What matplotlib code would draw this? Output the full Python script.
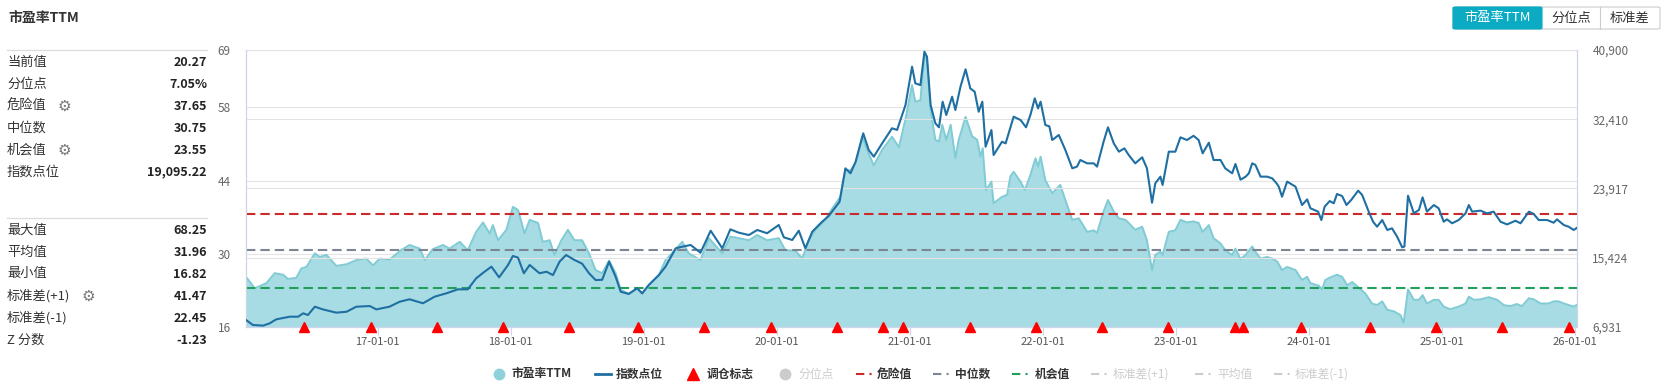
import matplotlib
matplotlib.use('Agg')
import matplotlib.pyplot as plt
import matplotlib.dates as mdates
from matplotlib.lines import Line2D
from matplotlib.patches import FancyBboxPatch
from matplotlib.ticker import FixedLocator, FuncFormatter
import pandas as pd

plt.rcParams['font.family'] = ['Noto Sans CJK SC', 'DejaVu Sans']

# ---- data ----
pe_dates = [
    "2016-01-05", "2016-01-29", "2016-03-01", "2016-03-24", "2016-04-16", "2016-04-29",
    "2016-05-22", "2016-06-05", "2016-06-19", "2016-07-12", "2016-07-25", "2016-08-13",
    "2016-09-09", "2016-10-07", "2016-11-03", "2016-11-30", "2016-12-19", "2017-01-06",
    "2017-02-02", "2017-03-06", "2017-03-29", "2017-04-26", "2017-05-10", "2017-06-01",
    "2017-06-29", "2017-07-17", "2017-08-14", "2017-09-05", "2017-09-28", "2017-10-17",
    "2017-11-04", "2017-11-13", "2017-11-27", "2017-12-20", "2018-01-07", "2018-01-21",
    "2018-02-08", "2018-02-22", "2018-03-17", "2018-03-30", "2018-04-18", "2018-05-01",
    "2018-05-20", "2018-06-07", "2018-06-25", "2018-07-16", "2018-08-04", "2018-08-22",
    "2018-09-09", "2018-09-28", "2018-10-16", "2018-10-30", "2018-11-21", "2018-12-14",
    "2018-12-28", "2019-01-15", "2019-02-12", "2019-03-02", "2019-03-20", "2019-04-17",
    "2019-05-05", "2019-06-06", "2019-06-29", "2019-08-05", "2019-08-27", "2019-09-19",
    "2019-10-17", "2019-11-09", "2019-12-06", "2020-01-07", "2020-01-25", "2020-02-22",
    "2020-03-11", "2020-03-30", "2020-04-17", "2020-05-14", "2020-06-02", "2020-06-24",
    "2020-07-08", "2020-07-22", "2020-08-05", "2020-08-23", "2020-09-10", "2020-09-24",
    "2020-10-17", "2020-11-13", "2020-12-02", "2020-12-20", "2021-01-07", "2021-01-16",
    "2021-01-30", "2021-02-10", "2021-02-17", "2021-02-27", "2021-03-12", "2021-03-22",
    "2021-03-31", "2021-04-11", "2021-04-23", "2021-05-06", "2021-05-15", "2021-06-03",
    "2021-06-21", "2021-07-05", "2021-07-14", "2021-07-20", "2021-07-29", "2021-08-13",
    "2021-08-19", "2021-09-11", "2021-09-25", "2021-10-04", "2021-10-13", "2021-11-01",
    "2021-11-13", "2021-11-28", "2021-12-12", "2021-12-19", "2021-12-26", "2022-01-08",
    "2022-01-27", "2022-02-18", "2022-03-04", "2022-03-23", "2022-04-10", "2022-05-03",
    "2022-05-21", "2022-05-30", "2022-06-17", "2022-06-29", "2022-07-15", "2022-07-29",
    "2022-08-16", "2022-08-25", "2022-09-12", "2022-10-01", "2022-10-14", "2022-10-28",
    "2022-11-06", "2022-11-20", "2022-11-26", "2022-12-13", "2022-12-31", "2023-01-14",
    "2023-02-01", "2023-02-19", "2023-03-05", "2023-03-16", "2023-04-02", "2023-04-15",
    "2023-05-04", "2023-05-17", "2023-06-05", "2023-06-14", "2023-06-28", "2023-07-12",
    "2023-07-30", "2023-08-08", "2023-08-22", "2023-09-09", "2023-09-23", "2023-10-07",
    "2023-10-20", "2023-11-03", "2023-11-26", "2023-12-14", "2023-12-28", "2024-01-06",
    "2024-01-29", "2024-02-07", "2024-02-16", "2024-03-01", "2024-03-19", "2024-04-02",
    "2024-04-16", "2024-04-30", "2024-05-18", "2024-06-05", "2024-06-23", "2024-07-07",
    "2024-07-21", "2024-08-04", "2024-08-22", "2024-09-09", "2024-09-18", "2024-09-30",
    "2024-10-16", "2024-10-30", "2024-11-09", "2024-11-21", "2024-12-10", "2024-12-23",
    "2025-01-06", "2025-01-24", "2025-02-16", "2025-03-07", "2025-03-16", "2025-03-30",
    "2025-04-17", "2025-05-10", "2025-06-02", "2025-06-20", "2025-07-08", "2025-07-26",
    "2025-08-09", "2025-08-28", "2025-09-10", "2025-09-29", "2025-10-21", "2025-11-04",
    "2025-11-18", "2025-12-02", "2025-12-15", "2025-12-29", "2026-01-07",
]
pe_values = [
    25.6, 23.4, 24.4, 26.3, 26.0, 25.2,
    25.4, 27.2, 27.5, 30.1, 29.4, 29.8,
    27.7, 28.0, 28.8, 29.1, 27.8, 29.1,
    28.9, 30.7, 31.7, 31.0, 28.8, 30.9,
    31.7, 31.0, 32.3, 30.7, 34.2, 36.0,
    33.9, 35.5, 32.6, 34.6, 39.0, 38.4,
    33.9, 36.5, 35.9, 32.3, 32.6, 29.8,
    32.6, 34.6, 32.6, 32.6, 30.1, 26.9,
    26.3, 28.7, 26.3, 23.1, 22.4, 23.4,
    22.4, 24.0, 26.0, 28.8, 30.1, 32.3,
    30.1, 28.8, 33.0, 30.1, 33.3, 33.0,
    32.6, 33.6, 32.6, 33.0, 30.7, 30.6,
    29.1, 32.6, 34.6, 36.5, 38.7, 40.9,
    46.0, 46.0, 47.3, 52.4, 49.2, 46.9,
    49.9, 52.4, 50.4, 55.8, 62.3, 59.1,
    59.4, 68.25, 67.0, 57.5, 51.8, 51.5,
    54.7, 51.8, 54.7, 48.3, 51.8, 56.2,
    52.5, 51.8, 48.6, 50.2, 42.2, 43.8,
    39.7, 40.9, 41.3, 44.8, 45.7, 43.8,
    42.2, 45.1, 48.3, 46.7, 48.6, 44.1,
    41.6, 43.2, 40.3, 36.5, 36.8, 34.2,
    34.5, 34.0, 38.1, 40.3, 38.1, 36.8,
    36.5, 35.9, 34.6, 35.2, 32.6, 26.9,
    29.8, 30.4, 29.8, 34.2, 34.5, 36.5,
    36.0, 36.2, 35.9, 34.2, 35.5, 33.0,
    32.0, 30.7, 29.8, 31.0, 29.0, 29.8,
    31.4, 30.4, 29.1, 29.4, 29.1, 28.5,
    26.9, 27.5, 26.9, 25.0, 25.6, 24.4,
    23.9, 23.2, 25.0, 25.5, 26.0, 25.6,
    24.0, 24.6, 23.5, 22.4, 20.5, 20.2,
    20.9, 19.3, 19.0, 18.3, 16.82, 23.2,
    21.2, 21.2, 22.1, 20.5, 21.2, 21.2,
    19.9, 19.4, 19.9, 20.5, 21.8, 21.2,
    21.3, 21.7, 21.2, 20.2, 20.0, 20.4,
    20.0, 21.5, 21.3, 20.5, 20.5, 20.9,
    20.9, 20.5, 20.2, 19.9, 20.27,
]

idx_dates = [
    "2016-01-05", "2016-01-24", "2016-02-21", "2016-03-10", "2016-03-28", "2016-05-04",
    "2016-05-27", "2016-06-10", "2016-06-23", "2016-07-12", "2016-08-03", "2016-09-09",
    "2016-10-07", "2016-11-03", "2016-12-10", "2016-12-28", "2017-02-02", "2017-03-02",
    "2017-03-29", "2017-05-05", "2017-06-06", "2017-07-08", "2017-08-09", "2017-09-05",
    "2017-09-28", "2017-10-21", "2017-11-09", "2017-11-30", "2017-12-24", "2018-01-07",
    "2018-01-21", "2018-02-06", "2018-02-22", "2018-03-21", "2018-04-09", "2018-04-27",
    "2018-05-15", "2018-06-02", "2018-06-25", "2018-07-16", "2018-08-04", "2018-08-22",
    "2018-09-09", "2018-09-28", "2018-10-16", "2018-10-30", "2018-11-21", "2018-12-14",
    "2018-12-28", "2019-01-15", "2019-02-12", "2019-03-02", "2019-03-30", "2019-04-17",
    "2019-05-10", "2019-06-06", "2019-07-04", "2019-08-05", "2019-08-27", "2019-09-19",
    "2019-10-17", "2019-11-09", "2019-12-06", "2020-01-07", "2020-01-21", "2020-02-13",
    "2020-03-02", "2020-03-20", "2020-04-08", "2020-05-05", "2020-05-23", "2020-06-22",
    "2020-07-08", "2020-07-22", "2020-08-05", "2020-08-26", "2020-09-10", "2020-09-24",
    "2020-10-17", "2020-11-13", "2020-11-27", "2020-12-20", "2021-01-07", "2021-01-16",
    "2021-01-30", "2021-02-10", "2021-02-17", "2021-02-27", "2021-03-12", "2021-03-22",
    "2021-04-01", "2021-04-11", "2021-04-27", "2021-05-06", "2021-05-20", "2021-06-03",
    "2021-06-16", "2021-06-28", "2021-07-09", "2021-07-19", "2021-07-28", "2021-08-13",
    "2021-08-19", "2021-09-11", "2021-09-21", "2021-10-13", "2021-11-01", "2021-11-16",
    "2021-11-28", "2021-12-10", "2021-12-19", "2021-12-26", "2022-01-08", "2022-01-19",
    "2022-01-27", "2022-02-14", "2022-03-04", "2022-03-23", "2022-04-05", "2022-04-14",
    "2022-05-03", "2022-05-21", "2022-05-30", "2022-06-17", "2022-06-29", "2022-07-15",
    "2022-07-29", "2022-08-13", "2022-08-25", "2022-09-12", "2022-10-01", "2022-10-14",
    "2022-10-28", "2022-11-06", "2022-11-20", "2022-11-26", "2022-12-13", "2022-12-31",
    "2023-01-14", "2023-02-01", "2023-02-19", "2023-03-05", "2023-03-16", "2023-04-02",
    "2023-04-15", "2023-05-04", "2023-05-17", "2023-06-05", "2023-06-14", "2023-06-28",
    "2023-07-12", "2023-07-21", "2023-07-30", "2023-08-08", "2023-08-22", "2023-09-09",
    "2023-09-23", "2023-10-05", "2023-10-11", "2023-10-20", "2023-11-03", "2023-11-26",
    "2023-12-14", "2023-12-28", "2024-01-06", "2024-01-27", "2024-02-05", "2024-02-14",
    "2024-02-28", "2024-03-10", "2024-03-19", "2024-04-02", "2024-04-14", "2024-04-27",
    "2024-05-16", "2024-05-27", "2024-06-14", "2024-06-26", "2024-07-07", "2024-07-21",
    "2024-08-04", "2024-08-17", "2024-08-31", "2024-09-14", "2024-09-20", "2024-09-30",
    "2024-10-16", "2024-10-30", "2024-11-09", "2024-11-21", "2024-12-10", "2024-12-23",
    "2025-01-06", "2025-01-15", "2025-01-29", "2025-02-16", "2025-03-07", "2025-03-16",
    "2025-03-25", "2025-04-17", "2025-05-05", "2025-05-23", "2025-06-11", "2025-06-29",
    "2025-07-22", "2025-08-05", "2025-08-28", "2025-09-10", "2025-09-24", "2025-10-17",
    "2025-11-04", "2025-11-13", "2025-12-02", "2025-12-15", "2025-12-29", "2026-01-07",
]
idx_values = [
    7790, 7176, 7100, 7380, 7870, 8194,
    8194, 8610, 8400, 9420, 9090, 8690,
    8800, 9420, 9500, 9090, 9420, 10030,
    10330, 9840, 10650, 11060, 11550, 11550,
    12900, 13710, 14330, 13020, 14500, 15640,
    15440, 13520, 14540, 13520, 13710, 13300,
    14940, 15760, 15150, 14700, 13520, 12690,
    12720, 14940, 13100, 11260, 10980, 11680,
    11060, 12080, 13310, 14330, 16580, 16780,
    16990, 16040, 18740, 16580, 18910, 18500,
    18210, 18830, 18430, 19440, 17930, 17600,
    18740, 16580, 18620, 19840, 20540, 22290,
    26390, 25780, 27200, 30680, 28640, 27820,
    29460, 31300, 31100, 34150, 38850, 36810,
    36600, 40690, 40080, 34150, 31910, 31420,
    34560, 32930, 35170, 33540, 36400, 38530,
    36190, 35780, 33330, 34560, 29040, 31080,
    28020, 29650, 29450, 32720, 32310, 31420,
    32930, 34970, 33740, 34560, 31700, 31540,
    29860, 30480, 28640, 26390, 26600, 27410,
    27000, 27000, 26600, 29650, 31420, 29450,
    28430, 28840, 28020, 27000, 27740, 26390,
    22170, 24550, 25370, 24350, 28430, 28430,
    30190, 29860, 30380, 29860, 28230, 29530,
    27410, 27410, 26390, 25780, 26920, 25000,
    25360, 25780, 27000, 26800, 25370, 25370,
    25160, 24550, 24140, 22910, 24760, 24140,
    21890, 22580, 21490, 21080, 20050, 21690,
    22380, 22100, 23240, 22990, 21890, 22510,
    23650, 23130, 21080, 19840, 19230, 20050,
    18830, 19030, 18010, 16700, 16800, 23030,
    20870, 21290, 22830, 21080, 21890, 21490,
    19840, 20130, 19650, 20050, 20870, 21890,
    21080, 21200, 20870, 21080, 19840, 19510,
    19960, 19650, 21080, 20790, 20050, 20050,
    19720, 20130, 19430, 19230, 18830, 19095.22,
]

signal_dates = [
    "2016-06-13", "2016-12-12", "2017-06-12", "2017-12-11", "2018-06-11", "2018-12-17",
    "2019-06-17", "2019-12-16", "2020-06-15", "2020-10-19", "2020-12-14", "2021-06-15",
    "2021-12-13", "2022-06-13", "2022-12-12", "2023-06-12", "2023-07-05", "2023-12-11",
    "2024-06-17", "2024-12-16", "2025-06-16", "2025-12-15",
]

danger_value = 37.65
median_value = 30.75
chance_value = 23.55

pe_ticks = [16, 30, 44, 58, 69]
idx_ticks = [6931, 15424, 23917, 32410, 40900]

stats_top = [("当前值", "20.27", False), ("分位点", "7.05%", False), ("危险值", "37.65", True),
             ("中位数", "30.75", False), ("机会值", "23.55", True), ("指数点位", "19,095.22", False)]
stats_bottom = [("最大值", "68.25", False), ("平均值", "31.96", False), ("最小值", "16.82", False),
                ("标准差(+1)", "41.47", True), ("标准差(-1)", "22.45", False), ("Z 分数", "-1.23", False)]

buttons = ["市盈率TTM", "分位点", "标准差"]

legend_labels = ["市盈率TTM", "指数点位", "调仓标志", "分位点", "危险值", "中位数", "机会值",
                 "标准差(+1)", "平均值", "标准差(-1)"]

# ---- colours ----
fill_c = '#a7dce4'
edge_c = '#80cbd4'
line_c = '#1f6fa3'
red_c = '#cc2a2a'
gray_c = '#7c8593'
green_c = '#20a05a'
axis_c = '#ccd6eb'
grid_c = '#e3e3e3'
teal_c = '#0aabc3'
faded_c = '#cccccc'

W, H = 1666, 386
fig = plt.figure(figsize=(W / 100, H / 100), dpi=100)
fig.patch.set_facecolor('white')


def fx(px):
    return px / W


def fy(py):
    return 1 - py / H


ax = fig.add_axes([fx(246), fy(327), fx(1577) - fx(246), fy(50) - fy(327)])
ax2 = ax.twinx()

pe_d = pd.to_datetime(pe_dates)
idx_d = pd.to_datetime(idx_dates)
sig_d = pd.to_datetime(signal_dates)

ax.fill_between(pe_d, pe_ticks[0], pe_values, color=fill_c, lw=0, zorder=1)
ax.plot(pe_d, pe_values, color=edge_c, lw=1.4, zorder=2)

dash = (0, (4.5, 2.4))
ax.axhline(danger_value, color=red_c, lw=1.5, ls=dash, zorder=3)
ax.axhline(median_value, color=gray_c, lw=1.5, ls=dash, zorder=3)
ax.axhline(chance_value, color=green_c, lw=1.5, ls=dash, zorder=3)

ax2.plot(idx_d, idx_values, color=line_c, lw=1.5, zorder=4)
ax2.plot(sig_d, [idx_ticks[0]] * len(sig_d), ls='none', marker='^', ms=7.5,
         color='#ff0000', clip_on=False, zorder=6)

ax.set_xlim(pe_d[0], pe_d[-1])
ax.set_ylim(pe_ticks[0], pe_ticks[-1])
ax2.set_ylim(idx_ticks[0], idx_ticks[-1])
ax.yaxis.set_major_locator(FixedLocator(pe_ticks))
ax2.yaxis.set_major_locator(FixedLocator(idx_ticks))
ax2.yaxis.set_major_formatter(FuncFormatter(lambda v, p: f"{int(round(v)):,}"))

ax.xaxis.set_major_locator(mdates.YearLocator())
ax.xaxis.set_major_formatter(mdates.DateFormatter('%y-%m-%d'))

ax.grid(axis='y', color=grid_c, lw=0.8, zorder=0)
ax2.grid(axis='y', color=grid_c, lw=0.8)
ax.set_axisbelow(True)

ax.tick_params(axis='x', length=5.5, width=0.8, color=axis_c, labelsize=8, labelcolor='#555555', pad=2)
ax.tick_params(axis='y', length=0, pad=11, labelsize=8.5, labelcolor='#666666')
ax2.tick_params(axis='y', length=0, pad=11, labelsize=8.5, labelcolor='#666666')

for a in (ax, ax2):
    a.spines['top'].set_visible(False)
    for s in ('left', 'right', 'bottom'):
        a.spines[s].set_color(axis_c)
        a.spines[s].set_linewidth(0.8)

# ---- left panel ----
fig.text(fx(8), fy(18), "市盈率TTM", fontsize=10, fontweight='bold', color='#333333', va='center')

for y0, rows in ((50, stats_top), (218, stats_bottom)):
    fig.add_artist(Line2D([fx(7), fx(207)], [fy(y0), fy(y0)], color='#dddddd', lw=0.9))
    for i, (lab, val, gear) in enumerate(rows):
        yy = y0 + 12 + i * 22
        fig.text(fx(7), fy(yy), lab, fontsize=9.5, color='#333333', va='center')
        fig.text(fx(207), fy(yy), val, fontsize=9, fontweight='bold', color='#222222',
                 va='center', ha='right')
        if gear:
            gx = 64 if len(lab) == 3 else 88
            fig.text(fx(gx), fy(yy), "\u2699", fontsize=11, color='#777777', va='center',
                     ha='center', family=['DejaVu Sans'])

# ---- buttons ----
bx = [1453, 1542, 1600, 1660]
fig.add_artist(FancyBboxPatch((fx(bx[0]), fy(29)), fx(bx[-1]) - fx(bx[0]), fy(7) - fy(29),
                              boxstyle='round,pad=0,rounding_size=0.002', fc='white',
                              ec='#cccccc', lw=0.8))
fig.add_artist(FancyBboxPatch((fx(bx[0]), fy(29)), fx(bx[1]) - fx(bx[0]), fy(7) - fy(29),
                              boxstyle='round,pad=0,rounding_size=0.002', fc=teal_c,
                              ec=teal_c, lw=0.8))
fig.add_artist(Line2D([fx(bx[2]), fx(bx[2])], [fy(7), fy(29)], color='#cccccc', lw=0.8))
for i, name in enumerate(buttons):
    fig.text(fx((bx[i] + bx[i + 1]) / 2), fy(18), name, fontsize=9.5, va='center', ha='center',
             color='white' if i == 0 else '#333333')

# ---- legend ----
ly = 374
sym_x = [499, 603, 693, 785, 865, 942, 1021, 1100, 1204, 1283]
txt_x = [512, 616, 707, 798, 877, 955, 1035, 1113, 1217, 1295]
for i, lab in enumerate(legend_labels):
    sx = sym_x[i]
    active = i not in (3, 7, 8, 9)
    tc = '#333333' if active else faded_c
    if i == 0:
        fig.add_artist(Line2D([fx(sx)], [fy(ly)], marker='o', ms=7.5, color='#8fd1da', ls='none'))
    elif i == 1:
        fig.add_artist(Line2D([fx(sx - 8), fx(sx + 8)], [fy(ly), fy(ly)], color=line_c, lw=2))
    elif i == 2:
        fig.add_artist(Line2D([fx(sx)], [fy(ly)], marker='^', ms=8, color='#ff0000', ls='none'))
    elif i == 3:
        fig.add_artist(Line2D([fx(sx)], [fy(ly)], marker='o', ms=7.5, color=faded_c, ls='none'))
    else:
        c = {4: red_c, 5: gray_c, 6: green_c}.get(i, faded_c)
        fig.add_artist(Line2D([fx(sx - 9), fx(sx + 9)], [fy(ly), fy(ly)], color=c, lw=1.5,
                              ls=(0, (4, 2.5, 1, 2.5))))
    fig.text(fx(txt_x[i]), fy(ly), lab, fontsize=8.5, color=tc, va='center', ha='left',
             fontweight='bold' if active else 'normal')

fig.savefig('out.png', dpi=100, facecolor='white')
